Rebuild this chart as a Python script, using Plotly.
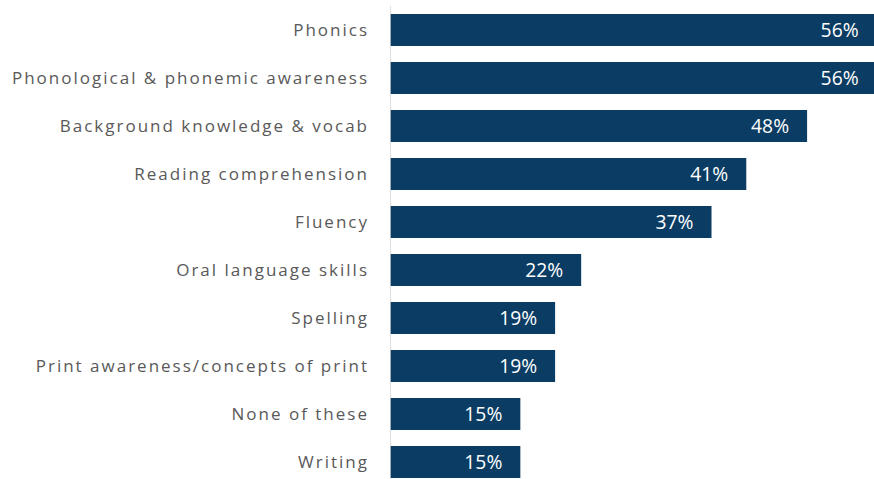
import plotly.graph_objects as go

categories = [
    "Phonics",
    "Phonological & phonemic awareness",
    "Background knowledge & vocab",
    "Reading comprehension",
    "Fluency",
    "Oral language skills",
    "Spelling",
    "Print awareness/concepts of print",
    "None of these",
    "Writing",
]
values = [56, 56, 48, 41, 37, 22, 19, 19, 15, 15]

BAR_COLOR = "#0B3D64"
LABEL_COLOR = "#595959"
FONT = "Open Sans"

fig = go.Figure(
    go.Bar(
        x=values,
        y=categories,
        orientation="h",
        marker=dict(color=BAR_COLOR, line=dict(width=0)),
        text=[f"{v}%" for v in values],
        texttemplate="%{text}\u00a0\u00a0\u00a0",
        textposition="inside",
        insidetextanchor="end",
        textangle=0,
        insidetextfont=dict(family=FONT, size=20, color="white"),
        hoverinfo="skip",
    )
)

# thin vertical baseline at zero
fig.add_shape(
    type="line", xref="x", yref="y",
    x0=0, x1=0, y0=-0.5, y1=9.5,
    line=dict(color="#D4D4D4", width=1.5),
    layer="above",
)

fig.update_layout(
    width=874,
    height=479,
    margin=dict(l=390, r=0, t=0, b=0),
    paper_bgcolor="white",
    plot_bgcolor="white",
    bargap=0.333,
    showlegend=False,
    uniformtext=dict(mode=False),
)
fig.update_xaxes(
    range=[0, 55.7],
    visible=False,
    showgrid=False,
    zeroline=False,
)
fig.update_yaxes(
    categoryorder="array",
    categoryarray=categories,
    range=[9.354, -0.625],
    showgrid=False,
    zeroline=False,
    showline=False,
    ticks="",
    ticklabelstandoff=20,
    tickfont=dict(family=FONT, size=17, color=LABEL_COLOR),
)

# widen the spacing of the category labels a little
post = (
    "var s=document.createElement('style');"
    "s.textContent='.ytick text{letter-spacing:2px}';"
    "document.head.appendChild(s);"
)

fig.write_html("out.html", post_script=post)
